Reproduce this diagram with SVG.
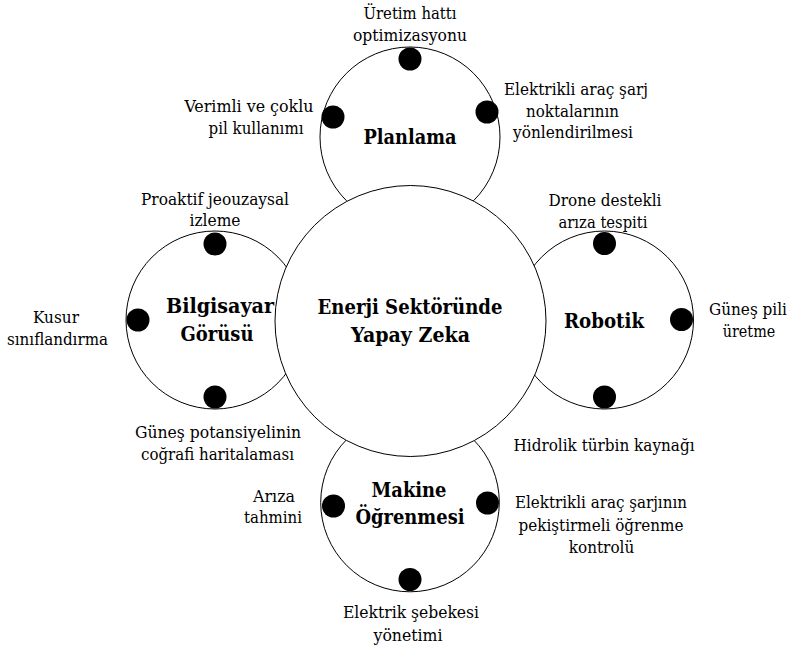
<svg xmlns="http://www.w3.org/2000/svg" width="788" height="651" viewBox="0 0 788 651">
  <style>
    .ring { fill: #ffffff; stroke: #000000; stroke-width: 1; }
    .dot { fill: #000000; }
    .title { font-family: "DejaVu Serif", serif; font-stretch: condensed; font-size: 21px; font-weight: bold; fill: #000000; text-anchor: middle; }
    .label { font-family: "DejaVu Serif", serif; font-stretch: condensed; font-size: 17.5px; fill: #000000; text-anchor: middle; }
  </style>
  <rect width="788" height="651" fill="#ffffff"/>

  <!-- Planlama (top) -->
  <g id="planlama">
    <circle class="ring" cx="410" cy="137" r="90"/>
    <circle class="dot" cx="410" cy="59" r="11.5"/>
    <circle class="dot" cx="333" cy="117" r="11.5"/>
    <circle class="dot" cx="487" cy="112" r="11.5"/>
    <text class="title" x="410" y="144" textLength="93" lengthAdjust="spacingAndGlyphs">Planlama</text>
    <text class="label" x="410" y="19" textLength="93" lengthAdjust="spacingAndGlyphs">Üretim hattı</text>
    <text class="label" x="410" y="41" textLength="114" lengthAdjust="spacingAndGlyphs">optimizasyonu</text>
    <text class="label" x="249" y="112" textLength="129" lengthAdjust="spacingAndGlyphs">Verimli ve çoklu</text>
    <text class="label" x="256" y="134" textLength="95" lengthAdjust="spacingAndGlyphs">pil kullanımı</text>
    <text class="label" x="576" y="95" textLength="144" lengthAdjust="spacingAndGlyphs">Elektrikli araç şarj</text>
    <text class="label" x="572.5" y="117" textLength="93" lengthAdjust="spacingAndGlyphs">noktalarının</text>
    <text class="label" x="573" y="138" textLength="120" lengthAdjust="spacingAndGlyphs">yönlendirilmesi</text>
  </g>

  <!-- Bilgisayar Görüsü (left) -->
  <g id="bilgisayar-gorusu">
    <circle class="ring" cx="215" cy="320" r="89"/>
    <circle class="dot" cx="215" cy="244" r="11.5"/>
    <circle class="dot" cx="138" cy="320" r="11.5"/>
    <circle class="dot" cx="215" cy="397" r="11.5"/>
    <text class="title" x="220" y="313" textLength="108" lengthAdjust="spacingAndGlyphs">Bilgisayar</text>
    <text class="title" x="217" y="341" textLength="73" lengthAdjust="spacingAndGlyphs">Görüsü</text>
    <text class="label" x="215" y="205" textLength="148" lengthAdjust="spacingAndGlyphs">Proaktif jeouzaysal</text>
    <text class="label" x="215" y="226" textLength="51" lengthAdjust="spacingAndGlyphs">izleme</text>
    <text class="label" x="56" y="323" textLength="46" lengthAdjust="spacingAndGlyphs">Kusur</text>
    <text class="label" x="57.5" y="345" textLength="101" lengthAdjust="spacingAndGlyphs">sınıflandırma</text>
    <text class="label" x="218" y="438" textLength="166" lengthAdjust="spacingAndGlyphs">Güneş potansiyelinin</text>
    <text class="label" x="217.5" y="460" textLength="153" lengthAdjust="spacingAndGlyphs">coğrafi haritalaması</text>
  </g>

  <!-- Robotik (right) -->
  <g id="robotik">
    <circle class="ring" cx="604.5" cy="320" r="89"/>
    <circle class="dot" cx="604.5" cy="243.5" r="11.5"/>
    <circle class="dot" cx="681.5" cy="319.5" r="11.5"/>
    <circle class="dot" cx="604.5" cy="397" r="11.5"/>
    <text class="title" x="604" y="328" textLength="80" lengthAdjust="spacingAndGlyphs">Robotik</text>
    <text class="label" x="605" y="206" textLength="113" lengthAdjust="spacingAndGlyphs">Drone destekli</text>
    <text class="label" x="603" y="228" textLength="89" lengthAdjust="spacingAndGlyphs">arıza tespiti</text>
    <text class="label" x="748" y="315" textLength="78" lengthAdjust="spacingAndGlyphs">Güneş pili</text>
    <text class="label" x="749" y="337" textLength="52.5" lengthAdjust="spacingAndGlyphs">üretme</text>
    <text class="label" x="604" y="451" textLength="181" lengthAdjust="spacingAndGlyphs">Hidrolik türbin kaynağı</text>
  </g>

  <!-- Makine Öğrenmesi (bottom) -->
  <g id="makine-ogrenmesi">
    <circle class="ring" cx="410" cy="502.5" r="89.3"/>
    <circle class="dot" cx="333.5" cy="506" r="11.5"/>
    <circle class="dot" cx="487.5" cy="503" r="11.5"/>
    <circle class="dot" cx="410" cy="579.5" r="11.5"/>
    <text class="title" x="409" y="497" textLength="75" lengthAdjust="spacingAndGlyphs">Makine</text>
    <text class="title" x="410" y="524" textLength="109" lengthAdjust="spacingAndGlyphs">Öğrenmesi</text>
    <text class="label" x="274" y="502" textLength="42" lengthAdjust="spacingAndGlyphs">Arıza</text>
    <text class="label" x="273" y="523" textLength="58" lengthAdjust="spacingAndGlyphs">tahmini</text>
    <text class="label" x="601" y="508" textLength="172" lengthAdjust="spacingAndGlyphs">Elektrikli araç şarjının</text>
    <text class="label" x="601" y="531" textLength="165" lengthAdjust="spacingAndGlyphs">pekiştirmeli öğrenme</text>
    <text class="label" x="601.5" y="553" textLength="65.5" lengthAdjust="spacingAndGlyphs">kontrolü</text>
    <text class="label" x="411" y="618" textLength="136" lengthAdjust="spacingAndGlyphs">Elektrik şebekesi</text>
    <text class="label" x="408" y="641" textLength="69" lengthAdjust="spacingAndGlyphs">yönetimi</text>
  </g>

  <!-- Central hub, drawn last so it covers the inner arcs of the outer rings -->
  <g id="enerji-yapay-zeka">
    <circle class="ring" cx="410.5" cy="321" r="135.5"/>
    <text class="title" x="410" y="314" textLength="185" lengthAdjust="spacingAndGlyphs">Enerji Sektöründe</text>
    <text class="title" x="410.5" y="342" textLength="119" lengthAdjust="spacingAndGlyphs">Yapay Zeka</text>
  </g>
</svg>
